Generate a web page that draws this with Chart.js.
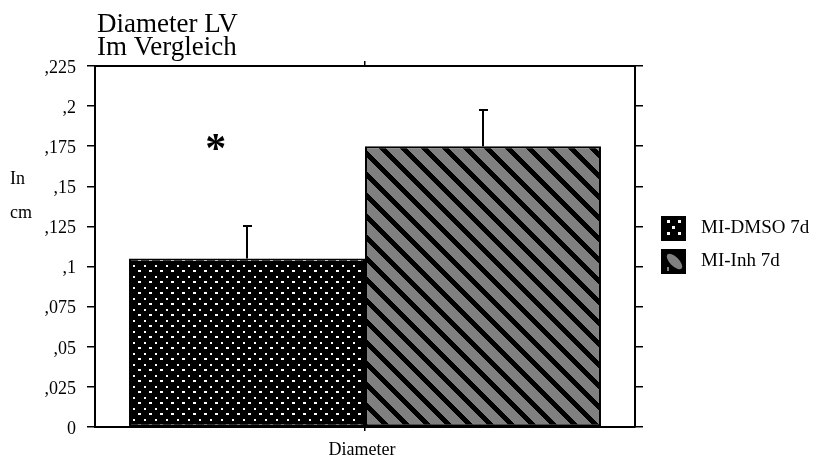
<!DOCTYPE html>
<html>
<head>
<meta charset="utf-8">
<script src="https://cdn.jsdelivr.net/npm/chart.js@4.4.1/dist/chart.umd.min.js"></script>
<style>
  html, body { margin: 0; padding: 0; background: #fff; }
  #c { display: block; }
</style>
</head>
<body>
<canvas id="c" width="818" height="461"></canvas>
<script>
// ---------- data ----------
const categories = ['Diameter'];
const seriesLabels = ['MI-DMSO 7d', 'MI-Inh 7d'];
const dmsoValues = [0.105];
const inhValues = [0.175];
const dmsoErrors = [0.02];
const inhErrors = [0.0225];
const yTickLabels = ['0', ',025', ',05', ',075', ',1', ',125', ',15', ',175', ',2', ',225'];
const titleLines = ['Diameter LV', 'Im Vergleich'];
const yTitleLines = ['In', 'cm'];
const significanceMarks = ['*'];
const significanceLevels = [0.1776];

const SERIF = "'Liberation Serif', 'Times New Roman', serif";
const canvas = document.getElementById('c');
const ctx = canvas.getContext('2d');

function dotPattern() {
  const c = document.createElement('canvas');
  c.width = 11; c.height = 11;
  const g = c.getContext('2d');
  g.fillStyle = '#000'; g.fillRect(0, 0, 11, 11);
  g.fillStyle = '#fff';
  g.fillRect(1, 1, 2, 2);
  g.fillRect(6, 6, 3, 2);
  return ctx.createPattern(c, 'repeat');
}
function stripePattern() {
  const n = 21;
  const c = document.createElement('canvas');
  c.width = n; c.height = n;
  const g = c.getContext('2d');
  const img = g.createImageData(n, n);
  for (let y = 0; y < n; y++) {
    for (let x = 0; x < n; x++) {
      const d = (((x - y) % n) + n) % n;
      const v = d < 7 ? 0 : 128;
      const k = (y * n + x) * 4;
      img.data[k] = v; img.data[k + 1] = v; img.data[k + 2] = v; img.data[k + 3] = 255;
    }
  }
  g.putImageData(img, 0, 0);
  return ctx.createPattern(c, 'repeat');
}

const errorsBySeries = [dmsoErrors, inhErrors];

const decorPlugin = {
  id: 'decor',
  afterDatasetsDraw(chart) {
    const c = chart.ctx;
    const ys = chart.scales.y;
    c.save();
    // error bars (upper only)
    chart.data.datasets.forEach((ds, i) => {
      const meta = chart.getDatasetMeta(i);
      meta.data.forEach((el, j) => {
        const x = Math.round(el.x);
        const top = Math.round(ys.getPixelForValue(ds.data[j] + errorsBySeries[i][j]));
        c.strokeStyle = '#000';
        c.lineWidth = 2;
        c.beginPath();
        c.moveTo(x, el.y);
        c.lineTo(x, top);
        c.moveTo(x - 4, top);
        c.lineTo(x + 5, top);
        c.stroke();
      });
    });
    // significance asterisk above first series
    const el0 = chart.getDatasetMeta(0).data[0];
    c.font = 'bold 42px ' + SERIF;
    c.fillStyle = '#000';
    c.textAlign = 'center';
    c.textBaseline = 'alphabetic';
    const m = c.measureText(significanceMarks[0]);
    const cx = el0.x - el0.width * 0.132;
    const cy = ys.getPixelForValue(significanceLevels[0]);
    const off = (m.actualBoundingBoxAscent - m.actualBoundingBoxDescent) / 2;
    c.fillText(significanceMarks[0], cx, cy + off);
    c.restore();
  },
  afterDraw(chart) {
    const c = chart.ctx;
    c.save();
    c.fillStyle = '#000';
    c.textAlign = 'left';
    c.textBaseline = 'alphabetic';
    // title
    c.font = '27px ' + SERIF;
    c.fillText(titleLines[0], 97, 32);
    c.fillText(titleLines[1], 97, 55);
    // y title
    c.font = '18px ' + SERIF;
    c.fillText(yTitleLines[0], 10, 184);
    c.fillText(yTitleLines[1], 10, 218);
    // legend
    const lx = 661, ly = [216, 249], sz = 25;
    // swatch 1
    c.fillStyle = '#000';
    c.fillRect(lx, ly[0], sz, sz);
    c.fillStyle = '#fff';
    [[6, 4], [17, 4], [11, 10], [6, 16], [17, 16]].forEach(p => c.fillRect(lx + p[0], ly[0] + p[1], 3, 3));
    // swatch 2
    c.fillStyle = '#000';
    c.fillRect(lx, ly[1], sz, sz);
    c.fillStyle = '#808080';
    c.beginPath();
    c.ellipse(lx + 13.5, ly[1] + 12.5, 10, 4.5, Math.PI / 4, 0, Math.PI * 2);
    c.fill();
    c.fillRect(lx + 6, ly[1] + 18, 2, 4);
    // legend text
    c.fillStyle = '#000';
    c.font = '19px ' + SERIF;
    chart.data.datasets.forEach((ds, i) => {
      c.fillText(ds.label, 701, ly[i] + 17);
    });
    c.restore();
  }
};

new Chart(ctx, {
  type: 'bar',
  data: {
    labels: categories,
    datasets: [
      {
        label: seriesLabels[0],
        data: dmsoValues,
        backgroundColor: dotPattern(),
        borderColor: '#000',
        borderWidth: 2,
        borderSkipped: false
      },
      {
        label: seriesLabels[1],
        data: inhValues,
        backgroundColor: stripePattern(),
        borderColor: '#000',
        borderWidth: 2,
        borderSkipped: false
      }
    ]
  },
  options: {
    responsive: false,
    animation: false,
    devicePixelRatio: 1,
    layout: { padding: 0 },
    categoryPercentage: 0.874,
    barPercentage: 1.0,
    plugins: {
      legend: { display: false },
      tooltip: { enabled: false },
      title: { display: false }
    },
    events: [],
    scales: {
      x: {
        type: 'category',
        position: 'bottom',
        offset: true,
        grid: { drawOnChartArea: false, drawTicks: true, tickLength: 4, offset: false, color: '#000', lineWidth: 1.5 },
        border: { display: true, color: '#000', width: 2 },
        ticks: { color: '#000', font: { family: SERIF, size: 18 }, padding: 8, maxRotation: 0, labelOffset: -3 },
        afterFit(s) { s.height = 34; }
      },
      xt: {
        type: 'category',
        position: 'top',
        offset: true,
        grid: { drawOnChartArea: false, drawTicks: true, tickLength: 5, offset: false, color: '#000', lineWidth: 1.5 },
        border: { display: true, color: '#000', width: 2 },
        ticks: { display: false },
        afterFit(s) { s.height = 66; }
      },
      y: {
        type: 'linear',
        position: 'left',
        min: 0,
        max: 0.225,
        grid: { drawOnChartArea: false, drawTicks: true, tickLength: 8, color: '#000', lineWidth: 1.5 },
        border: { display: true, color: '#000', width: 2 },
        ticks: {
          stepSize: 0.025,
          color: '#000',
          font: { family: SERIF, size: 18 },
          padding: 11,
          labelOffset: 2,
          callback: (v) => yTickLabels[Math.round(v / 0.025)]
        },
        afterFit(s) { s.width = 95; }
      },
      yr: {
        type: 'linear',
        position: 'right',
        min: 0,
        max: 0.225,
        grid: { drawOnChartArea: false, drawTicks: true, tickLength: 8, color: '#000', lineWidth: 1.5 },
        border: { display: true, color: '#000', width: 2 },
        ticks: { stepSize: 0.025, display: false },
        afterFit(s) { s.width = 183; }
      }
    }
  },
  plugins: [decorPlugin]
});
</script>
</body>
</html>
